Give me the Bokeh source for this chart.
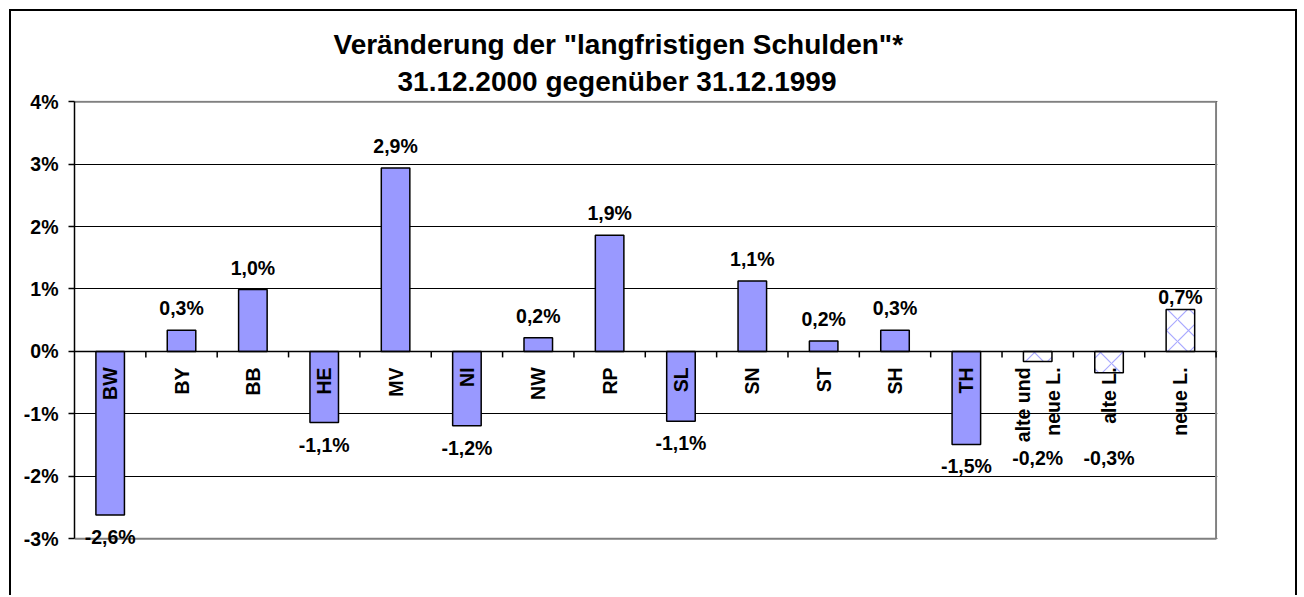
import numpy as np
from bokeh.plotting import figure
from bokeh.models import Range1d, FixedTicker, ColumnDataSource, Title
from bokeh.layouts import column
from bokeh.core.properties import value
from bokeh.embed import file_html
from bokeh.resources import INLINE

# ---------------- data ----------------
categories = ["BW", "BY", "BB", "HE", "MV", "NI", "NW", "RP", "SL", "SN",
              "ST", "SH", "TH", "alte und\nneue L.", "alte L.", "neue L."]
changes = [-2.62, 0.34, 0.99, -1.14, 2.94, -1.19, 0.22, 1.86, -1.12, 1.13,
           0.165, 0.34, -1.49, -0.16, -0.34, 0.67]
value_labels = ["-2,6%", "0,3%", "1,0%", "-1,1%", "2,9%", "-1,2%", "0,2%",
                "1,9%", "-1,1%", "1,1%", "0,2%", "0,3%", "-1,5%", "-0,2%",
                "-0,3%", "0,7%"]
groups = ["Land"] * 13 + ["Summe"] * 3
y_ticks = [-3, -2, -1, 0, 1, 2, 3, 4]
y_tick_labels = ["-3%", "-2%", "-1%", "0%", "1%", "2%", "3%", "4%"]
title_lines = ['Veränderung der "langfristigen Schulden"*',
               "31.12.2000 gegenüber 31.12.1999"]

# ---------------- layout / style ----------------
FONT = "Liberation Sans"
W, H = 1284, 584
BLUE = "#9999FF"
Y0, Y1 = y_ticks[0], y_ticks[-1]
N = len(categories)
PX_PER_UNIT = 460 / 7.37

x = np.arange(N) + 0.5

p = figure(width=W, height=H, output_backend="svg", toolbar_location=None,
           x_range=Range1d(0, N + 0.02), y_range=Range1d(Y0 - 0.35, Y1 + 0.02),
           x_axis_location=None, title=None,
           min_border_left=63, min_border_right=78, min_border_top=89,
           min_border_bottom=35)
p.background_fill_color = "white"
p.border_fill_color = "white"
p.outline_line_color = None

# title: two lines (first added sits closest to the plot)
for line, standoff, offset in zip(reversed(title_lines), [8, 0], [323, 259]):
    p.add_layout(Title(text=line, align="left", offset=offset,
                       text_font=FONT, text_font_style="bold",
                       text_font_size="28px", text_color="black",
                       standoff=standoff), "above")

# grid
p.xgrid.visible = False
p.ygrid.ticker = FixedTicker(ticks=y_ticks)
p.ygrid.grid_line_color = "black"
p.ygrid.grid_line_width = 1

# y axis
ax = p.yaxis[0]
ax.ticker = FixedTicker(ticks=y_ticks)
ax.bounds = (Y0, Y1)
ax.major_label_overrides = {t: l for t, l in zip(y_ticks, y_tick_labels)}
ax.major_label_text_font = FONT
ax.major_label_text_font_style = "bold"
ax.major_label_text_font_size = "19.5px"
ax.major_label_text_color = "black"
ax.major_label_standoff = 10
ax.axis_line_color = "black"
ax.axis_line_width = 1.5
ax.major_tick_line_color = "black"
ax.major_tick_line_width = 1.5
ax.major_tick_out = 6
ax.major_tick_in = 0
ax.minor_tick_line_color = None

# plot-area border (top, right, bottom) in grey
p.line(x=[0, N, N, 0], y=[Y1, Y1, Y0, Y0], line_color="#808080",
       line_width=2)

# bars
fills = [BLUE if g == "Land" else "white" for g in groups]
hatches = [" " if g == "Land" else "x" for g in groups]
src = ColumnDataSource(dict(x=x, val=changes, fill=fills, hatch=hatches))
p.vbar(x="x", top="val", bottom=0, width=0.4, source=src,
       fill_color="fill", line_color="black", line_width=1.5,
       hatch_pattern="hatch", hatch_color=BLUE, hatch_scale=22,
       hatch_weight=1.2, hatch_alpha=0.85)

# zero line with tick marks at category boundaries
p.segment(x0=0, y0=0, x1=N, y1=0, line_color="black", line_width=1.5)
bounds = np.arange(1, N + 1)
p.segment(x0=bounds, y0=0, x1=bounds, y1=-6 / PX_PER_UNIT,
          line_color="black", line_width=1.5)

# category labels (rotated, below zero line)
p.text(x=x, y=[-16 / PX_PER_UNIT] * N, text=categories,
       angle=np.pi / 2, text_align="right", text_baseline="middle",
       text_font=value(FONT), text_font_style="bold",
       text_font_size="19.5px", text_color="black", text_line_height=1.35)

# value labels
off = 22 / PX_PER_UNIT
lab_y = []
for c, v in zip(categories, changes):
    if v >= 0:
        lab_y.append(v + (13 / PX_PER_UNIT if c == "neue L." else off))
    elif v > -0.5:
        lab_y.append(-1.7)
    else:
        lab_y.append(v - off)
p.text(x=x, y=lab_y, text=value_labels, text_align="center",
       text_baseline="middle", text_font=value(FONT),
       text_font_style="bold", text_font_size="19.5px", text_color="black")

root = column(p, styles={"border-top": "2px solid black",
                         "border-left": "2px solid black",
                         "border-right": "2px solid black",
                         "margin-left": "9px", "margin-top": "9px"})

open("out.html", "w").write(file_html(root, INLINE))
